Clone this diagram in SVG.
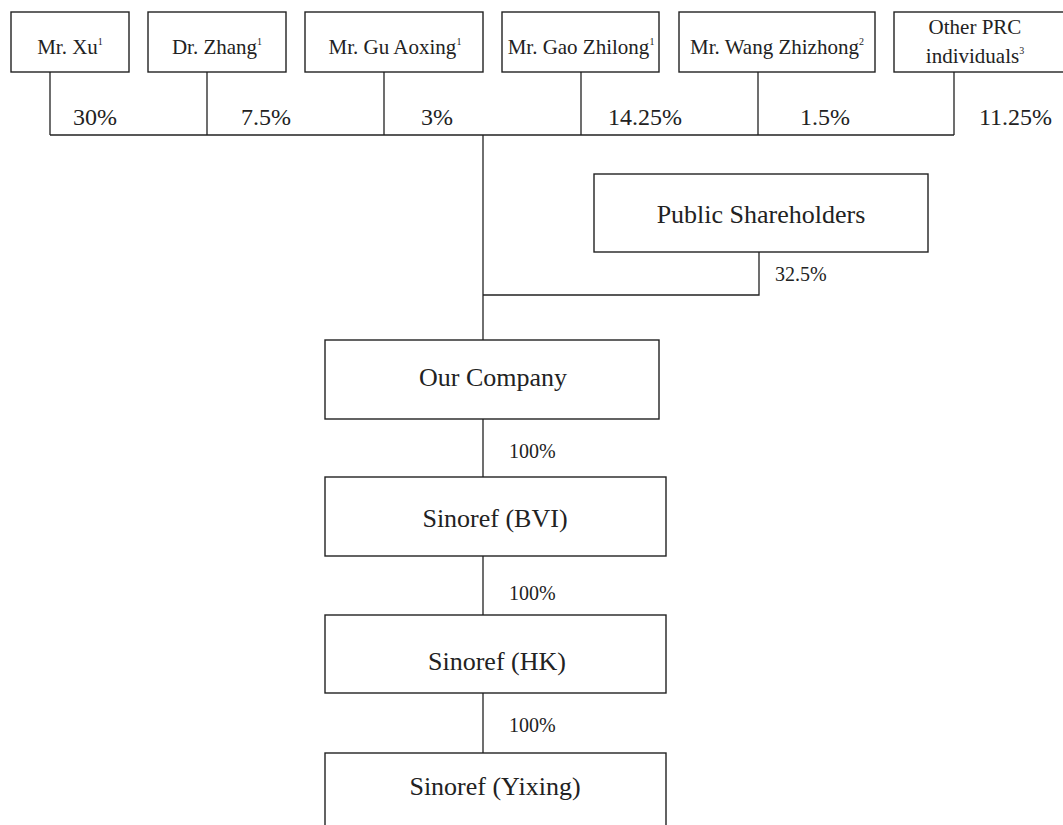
<svg xmlns="http://www.w3.org/2000/svg" width="1063" height="825" viewBox="0 0 1063 825">
<style>
.box{fill:#fff;stroke:#222;stroke-width:1.4}
.ln{fill:none;stroke:#222;stroke-width:1.3}
text{font-family:"Liberation Serif","Times New Roman",serif;fill:#222}
.t1{font-size:21px;text-anchor:middle}
.sup{font-size:10px}
.pct{font-size:24px}
.pct2{font-size:20px}
.t2{font-size:26px;text-anchor:middle}
</style>
<rect width="1063" height="825" fill="#fff"/>
<g id="connectors">
<path class="ln" d="M50 72V135M207 72V135M384 72V135M581 72V135M758 72V135M954 72V135M50 135H954"/>
<path class="ln" d="M483 135V340"/>
<path class="ln" d="M759 252V295H483"/>
<path class="ln" d="M483 419V477M483 556V615M483 693V753"/>
</g>
<g id="n-xu"><rect class="box" x="11" y="12" width="118" height="60"/><text class="t1" x="70" y="54">Mr. Xu<tspan class="sup" dy="-9">1</tspan></text></g>
<g id="n-zhang"><rect class="box" x="148" y="12" width="138" height="60"/><text class="t1" x="217" y="54">Dr. Zhang<tspan class="sup" dy="-9">1</tspan></text></g>
<g id="n-gu"><rect class="box" x="305" y="12" width="178" height="60"/><text class="t1" x="395" y="54">Mr. Gu Aoxing<tspan class="sup" dy="-9">1</tspan></text></g>
<g id="n-gao"><rect class="box" x="502" y="12" width="157" height="60"/><text class="t1" x="581" y="54">Mr. Gao Zhilong<tspan class="sup" dy="-9">1</tspan></text></g>
<g id="n-wang"><rect class="box" x="679" y="12" width="196" height="60"/><text class="t1" x="777" y="54">Mr. Wang Zhizhong<tspan class="sup" dy="-9">2</tspan></text></g>
<g id="n-other"><rect class="box" x="894" y="12" width="180" height="60"/><text class="t1" x="975" y="34">Other PRC</text><text class="t1" x="975" y="63">individuals<tspan class="sup" dy="-9">3</tspan></text></g>
<g id="labels">
<text class="pct" x="73" y="125">30%</text>
<text class="pct" x="241" y="125">7.5%</text>
<text class="pct" x="421" y="125">3%</text>
<text class="pct" x="608" y="125">14.25%</text>
<text class="pct" x="800" y="125">1.5%</text>
<text class="pct" x="979" y="125">11.25%</text>
<text class="pct2" x="775" y="281">32.5%</text>
<text class="pct2" x="509" y="458">100%</text>
<text class="pct2" x="509" y="600">100%</text>
<text class="pct2" x="509" y="732">100%</text>
</g>
<g id="n-public"><rect class="box" x="594" y="174" width="334" height="78"/><text class="t2" x="761" y="223">Public Shareholders</text></g>
<g id="n-company"><rect class="box" x="325" y="340" width="334" height="79"/><text class="t2" x="493" y="386">Our Company</text></g>
<g id="n-bvi"><rect class="box" x="325" y="477" width="341" height="79"/><text class="t2" x="495" y="527">Sinoref (BVI)</text></g>
<g id="n-hk"><rect class="box" x="325" y="615" width="341" height="78"/><text class="t2" x="497" y="670">Sinoref (HK)</text></g>
<g id="n-yixing"><rect class="box" x="325" y="753" width="341" height="90"/><text class="t2" x="495" y="795">Sinoref (Yixing)</text></g>
</svg>
